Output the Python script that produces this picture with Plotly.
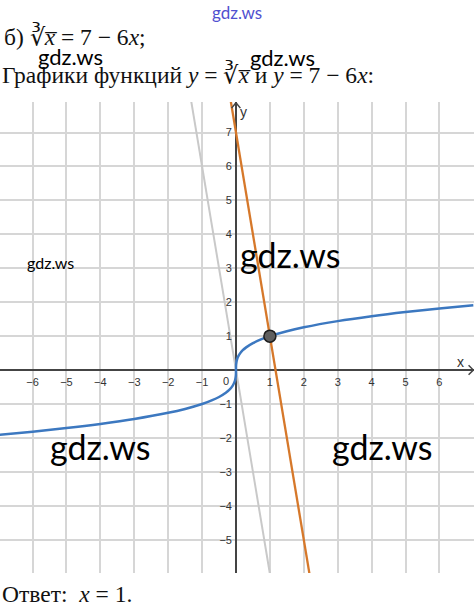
import plotly.graph_objects as go

# ---- data ----
cbrt_x = [-7, -6, -5, -4, -3, -2, -1.5, -1, -0.7, -0.5, -0.3, -0.2, -0.1, -0.05, -0.02, -0.005, -0.001, 0,
          0.001, 0.005, 0.02, 0.05, 0.1, 0.2, 0.3, 0.5, 0.7, 1, 1.5, 2, 3, 4, 5, 6, 7]
cbrt_y = [-1.913, -1.817, -1.710, -1.587, -1.442, -1.260, -1.145, -1.0, -0.888, -0.794, -0.669, -0.585, -0.464,
          -0.368, -0.271, -0.171, -0.1, 0, 0.1, 0.171, 0.271, 0.368, 0.464, 0.585, 0.669, 0.794, 0.888, 1.0,
          1.145, 1.260, 1.442, 1.587, 1.710, 1.817, 1.913]
line_x = [-0.2, 2.2]          # y = 7 - 6x
line_y = [8.2, -6.2]
gray_x = [-1.4, 1.1]          # y = -6x
gray_y = [8.4, -6.6]
root_x = [1]
root_y = [1]
x_ticks = [-6, -5, -4, -3, -2, -1, 1, 2, 3, 4, 5, 6]
y_ticks = [-5, -4, -3, -2, -1, 1, 2, 3, 4, 5, 6, 7]

W, H = 474, 606
ML, MR, MT, MB = 0, 0, 102, 33
XR = [-6.96, 7.02]
YR = [-5.98, 7.9]
PH = H - MT - MB


def px(xp):
    return xp / (W - ML - MR)


def py(yp):
    return (H - MB - yp) / PH


fig = go.Figure()
fig.add_trace(go.Scatter(x=gray_x, y=gray_y, mode="lines",
                         line=dict(color="#c9c9c9", width=2), hoverinfo="skip"))
fig.add_trace(go.Scatter(x=cbrt_x, y=cbrt_y, mode="lines", line_shape="spline",
                         line=dict(color="#3c78c0", width=2.5), hoverinfo="skip"))
fig.add_trace(go.Scatter(x=line_x, y=line_y, mode="lines",
                         line=dict(color="#d6782a", width=2.3), hoverinfo="skip"))
fig.add_trace(go.Scatter(x=root_x, y=root_y, mode="markers",
                         marker=dict(size=12, color="#5f5f5f", line=dict(color="#1e1e1e", width=1.5)),
                         hoverinfo="skip"))

tickfont = dict(family="Liberation Sans, Arial, sans-serif", size=11, color="#333333")
fig.update_xaxes(range=XR, tickvals=x_ticks, ticktext=[str(v).replace("-", "\u2212") for v in x_ticks],
                 showgrid=True, gridcolor="#d6d6d6", gridwidth=1.5,
                 zeroline=True, zerolinecolor="#444444", zerolinewidth=1.5,
                 showline=False, ticks="", anchor="free",
                 position=(0 - YR[0]) / (YR[1] - YR[0]), tickfont=tickfont,
                 ticklabelstandoff=4, fixedrange=True)
fig.update_yaxes(range=YR, tickvals=y_ticks, ticktext=[str(v).replace("-", "\u2212") for v in y_ticks],
                 showgrid=True, gridcolor="#d6d6d6", gridwidth=1.5,
                 zeroline=True, zerolinecolor="#444444", zerolinewidth=1.5,
                 showline=False, ticks="", anchor="free",
                 position=(0 - XR[0]) / (XR[1] - XR[0]), tickfont=tickfont,
                 ticklabelstandoff=4, fixedrange=True)

# axis arrows
fig.add_shape(type="path", xref="x", yref="y", path="M -0.13,7.72 L 0,7.88 L 0.13,7.72",
              line=dict(color="#444444", width=1.5))
fig.add_shape(type="path", xref="x", yref="y", path="M 6.86,0.14 L 7.0,0 L 6.86,-0.14",
              line=dict(color="#444444", width=1.5))

ann = []
axfont = dict(family="Liberation Sans, Arial, sans-serif", size=14, color="#333333")
ann.append(dict(x=6.62, y=0.25, xref="x", yref="y", text="x", showarrow=False, font=axfont))
ann.append(dict(x=0.22, y=7.62, xref="x", yref="y", text="y", showarrow=False, font=axfont))
ann.append(dict(x=-0.3, y=-0.32, xref="x", yref="y", text="0", showarrow=False, font=tickfont))

serif = dict(family="Liberation Serif, Times New Roman, serif", size=23.5, color="#111111")
ann.append(dict(x=px(2), y=py(36), xref="paper", yref="paper", xanchor="left", yanchor="middle",
                text="б) ∛<i>x\u0305</i> = 7 − 6<i>x</i>;", showarrow=False, font=serif))
ann.append(dict(x=px(0), y=py(74), xref="paper", yref="paper", xanchor="left", yanchor="middle",
                text="Графики функций <i>y</i> = ∛<i>x\u0305</i> и <i>y</i> = 7 − 6<i>x</i>:",
                showarrow=False, font=serif))
ann.append(dict(x=px(0), y=py(594), xref="paper", yref="paper", xanchor="left", yanchor="middle",
                text="Ответ:  <i>x</i> = 1.", showarrow=False, font=serif))

# watermarks
wm = "Lato, Open Sans, sans-serif"
ann.append(dict(x=px(237), y=py(12), xref="paper", yref="paper", xanchor="center", yanchor="middle",
                text="gdz.ws", showarrow=False, font=dict(family=wm, size=17, color="#5050d0")))
for (cx, cy, sz) in [(70, 56, 22), (282, 57, 22), (50, 262, 16), (290, 254, 34), (100, 446, 34), (382, 446, 34)]:
    ann.append(dict(x=px(cx), y=py(cy), xref="paper", yref="paper", xanchor="center", yanchor="middle",
                    text="gdz.ws", showarrow=False, font=dict(family=wm, size=sz, color="#000000")))

fig.update_layout(width=W, height=H, margin=dict(l=ML, r=MR, t=MT, b=MB),
                  paper_bgcolor="white", plot_bgcolor="white", showlegend=False,
                  annotations=ann)

fig.write_html("out.html", config={"displayModeBar": False},
               post_script="document.body.style.margin='0px';")
